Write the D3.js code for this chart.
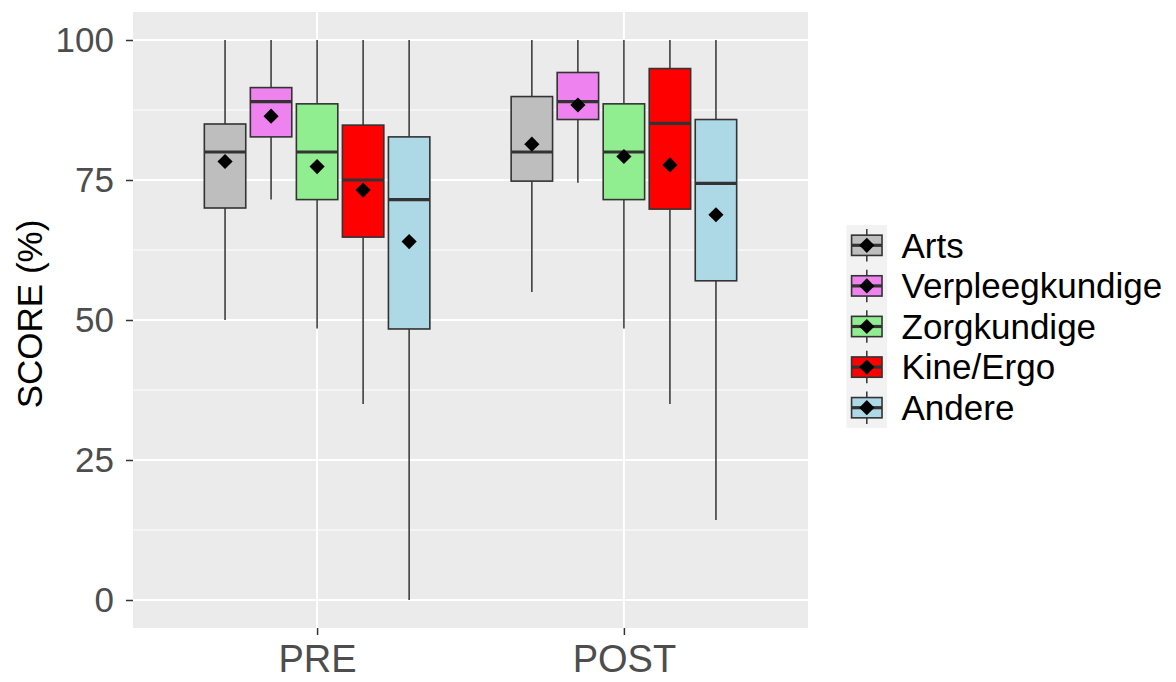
<!DOCTYPE html>
<html><head><meta charset="utf-8">
<script src="https://cdn.jsdelivr.net/npm/d3@7"></script>
<style>body{margin:0;background:#fff;} svg{display:block;font-family:"Liberation Sans",Arial,sans-serif;}</style>
</head><body>
<svg id="chart" width="1176" height="682"></svg>
<script>
const groups = ["PRE", "POST"];
const categories = ["Arts", "Verpleegkundige", "Zorgkundige", "Kine/Ergo", "Andere"];
const colors = ["#BEBEBE", "#EE82EE", "#90EE90", "#FF0000", "#ADD8E6"];
const yTicks = [0, 25, 50, 75, 100];
const yMinor = [12.5, 37.5, 62.5, 87.5];

// PRE statistics per category
const preLow = [50, 71.5, 48.5, 35, 0];
const preQ1 = [70, 82.7, 71.5, 64.8, 48.4];
const preMedian = [80, 89, 80, 75, 71.5];
const preQ3 = [85, 91.5, 88.6, 84.8, 82.7];
const preHigh = [100, 100, 100, 100, 100];
const preMean = [78.3, 86.4, 77.4, 73.2, 64.0];

// POST statistics per category
const postLow = [55, 74.5, 48.5, 35, 14.3];
const postQ1 = [74.8, 85.8, 71.5, 69.8, 57];
const postMedian = [80, 89, 80, 85.1, 74.4];
const postQ3 = [89.9, 94.2, 88.6, 94.9, 85.8];
const postHigh = [100, 100, 100, 100, 100];
const postMean = [81.4, 88.4, 79.2, 77.7, 68.8];

const stats = {
  PRE: {low: preLow, q1: preQ1, med: preMedian, q3: preQ3, high: preHigh, mean: preMean},
  POST: {low: postLow, q1: postQ1, med: postMedian, q3: postQ3, high: postHigh, mean: postMean}
};
const rows = [];
groups.forEach(g => categories.forEach((c, i) => rows.push({
  group: g, cat: c, color: colors[i],
  low: stats[g].low[i], q1: stats[g].q1[i], med: stats[g].med[i],
  q3: stats[g].q3[i], high: stats[g].high[i], mean: stats[g].mean[i]
})));

const svg = d3.select("#chart");
const P = {left: 133, right: 808, top: 12, bottom: 628};
const x = d3.scalePoint().domain(groups).range([P.left, P.right]).padding(0.6);
const step = x.step();
const sub = d3.scaleBand().domain(categories).range([-0.375 * step, 0.375 * step]).paddingInner(0.1).paddingOuter(0.05);
const y = d3.scaleLinear().domain([-5, 105]).range([P.bottom, P.top]);
const boxStroke = "#333333";

// panel
svg.append("rect").attr("x", P.left).attr("y", P.top).attr("width", P.right - P.left).attr("height", P.bottom - P.top).attr("fill", "#EBEBEB");
svg.append("g").selectAll("line").data(yMinor).join("line")
  .attr("x1", P.left).attr("x2", P.right).attr("y1", d => y(d)).attr("y2", d => y(d))
  .attr("stroke", "#fff").attr("stroke-width", 1);
svg.append("g").selectAll("line").data(yTicks).join("line")
  .attr("x1", P.left).attr("x2", P.right).attr("y1", d => y(d)).attr("y2", d => y(d))
  .attr("stroke", "#fff").attr("stroke-width", 2);
svg.append("g").selectAll("line").data(groups).join("line")
  .attr("x1", d => x(d)).attr("x2", d => x(d)).attr("y1", P.top).attr("y2", P.bottom)
  .attr("stroke", "#fff").attr("stroke-width", 2);

// boxes
const bw = sub.bandwidth();
const g = svg.append("g");
const bx = d => x(d.group) + sub(d.cat);
const cx = d => bx(d) + bw / 2;
g.selectAll(".wu").data(rows).join("line")
  .attr("x1", cx).attr("x2", cx).attr("y1", d => y(d.high)).attr("y2", d => y(d.q3))
  .attr("stroke", boxStroke).attr("stroke-width", 1.5);
g.selectAll(".wl").data(rows).join("line")
  .attr("x1", cx).attr("x2", cx).attr("y1", d => y(d.q1)).attr("y2", d => y(d.low))
  .attr("stroke", boxStroke).attr("stroke-width", 1.5);
g.selectAll(".box").data(rows).join("rect")
  .attr("x", bx).attr("width", bw).attr("y", d => y(d.q3)).attr("height", d => y(d.q1) - y(d.q3))
  .attr("fill", d => d.color).attr("stroke", boxStroke).attr("stroke-width", 1.6);
g.selectAll(".med").data(rows).join("line")
  .attr("x1", bx).attr("x2", d => bx(d) + bw).attr("y1", d => y(d.med)).attr("y2", d => y(d.med))
  .attr("stroke", boxStroke).attr("stroke-width", 3.2);
const diamond = d3.symbol().type(d3.symbolSquare).size(115);
g.selectAll(".mean").data(rows).join("path")
  .attr("d", diamond).attr("transform", d => `translate(${cx(d)},${y(d.mean)}) rotate(45)`)
  .attr("fill", "#000");

// axes
const yAxis = svg.append("g").attr("transform", `translate(${P.left},0)`)
  .call(d3.axisLeft(y).tickValues(yTicks).tickSize(7).tickPadding(12));
yAxis.select(".domain").remove();
yAxis.selectAll("line").attr("stroke", "#333").attr("stroke-width", 1.5);
yAxis.selectAll("text").attr("fill", "#4D4D4D").attr("font-size", 35).attr("font-family", "Liberation Sans, Arial, sans-serif");

const xAxis = svg.append("g").attr("transform", `translate(0,${P.bottom})`)
  .call(d3.axisBottom(x).tickSize(7).tickPadding(10));
xAxis.select(".domain").remove();
xAxis.selectAll("line").attr("stroke", "#333").attr("stroke-width", 1.5);
xAxis.selectAll("text").attr("fill", "#4D4D4D").attr("font-size", 38).attr("font-family", "Liberation Sans, Arial, sans-serif");

svg.append("text").attr("transform", `translate(42,${(P.top + P.bottom) / 2 - 6}) rotate(-90)`)
  .attr("text-anchor", "middle").attr("font-size", 35).attr("fill", "#000").text("SCORE (%)");

// legend
const keySize = 40.6, lx = 846.5, ly = 225;
const lg = svg.append("g");
lg.append("rect").attr("x", lx).attr("y", ly).attr("width", keySize).attr("height", keySize * categories.length).attr("fill", "#F2F2F2");
const items = lg.selectAll(".item").data(categories).join("g")
  .attr("transform", (d, i) => `translate(${lx},${ly + i * keySize})`);
items.append("line").attr("x1", keySize / 2).attr("x2", keySize / 2).attr("y1", keySize * 0.1).attr("y2", keySize * 0.9)
  .attr("stroke", boxStroke).attr("stroke-width", 1.5);
items.append("rect").attr("x", keySize * 0.125).attr("y", keySize * 0.25).attr("width", keySize * 0.75).attr("height", keySize * 0.5)
  .attr("fill", (d, i) => colors[i]).attr("stroke", boxStroke).attr("stroke-width", 1.6);
items.append("line").attr("x1", keySize * 0.125).attr("x2", keySize * 0.875).attr("y1", keySize / 2).attr("y2", keySize / 2)
  .attr("stroke", boxStroke).attr("stroke-width", 3.2);
items.append("path").attr("d", diamond).attr("transform", `translate(${keySize / 2},${keySize / 2}) rotate(45)`).attr("fill", "#000");
items.append("text").attr("x", 55).attr("y", keySize / 2).attr("dy", "0.35em")
  .attr("font-size", 35).attr("fill", "#000").text(d => d);
</script>
</body></html>
